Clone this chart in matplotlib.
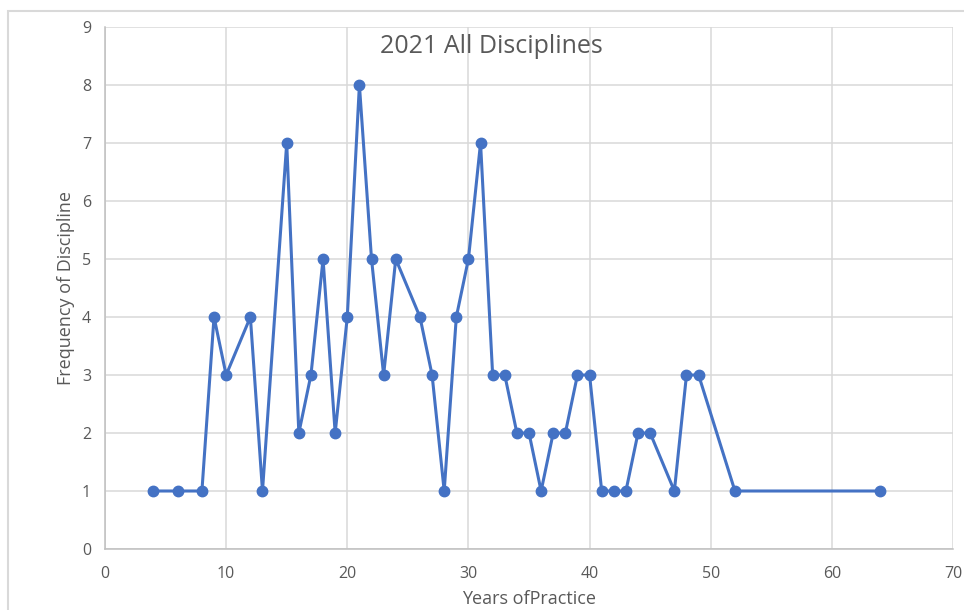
#!/usr/bin/python3

import matplotlib
matplotlib.use("Agg")
import matplotlib.pyplot as plt
from matplotlib.patches import Rectangle

years = [4, 6, 8, 9, 10, 12, 13, 15, 16, 17, 18, 19, 20, 21, 22, 23, 24,
         26, 27, 28, 29, 30, 31, 32, 33, 34, 35, 36, 37, 38, 39, 40, 41,
         42, 43, 44, 45, 47, 48, 49, 52, 64]
freq = [1, 1, 1, 4, 3, 4, 1, 7, 2, 3, 5, 2, 4, 8, 5, 3, 5,
        4, 3, 1, 4, 5, 7, 3, 3, 2, 2, 1, 2, 2, 3, 3, 1,
        1, 1, 2, 2, 1, 3, 3, 1, 1]

x_ticks = [0, 10, 20, 30, 40, 50, 60, 70]
y_ticks = list(range(0, 10))

plt.rcParams['font.family'] = ['Open Sans', 'DejaVu Sans']
grey = '#595959'

fig = plt.figure(figsize=(9.64, 6.10), dpi=100)
# outer chart border (light gray, runs off right and bottom)
fig.patches.append(Rectangle((8/964, -0.1), 1.2, 1.1 - 11/610,
                             transform=fig.transFigure, fill=False,
                             edgecolor='#D9D9D9', linewidth=1.5))

ax = fig.add_axes([105/964, 61/610, 848/964, 522/610])
ax.plot(years, freq, color='#4472C4', linewidth=2.2, marker='o',
        markersize=7.5, zorder=3)

ax.set_xlim(0, 70)
ax.set_ylim(0, 9)
ax.set_xticks(x_ticks)
ax.set_yticks(y_ticks)
ax.grid(True, color='#D9D9D9', linewidth=1.1)
ax.set_axisbelow(True)
for s in ['top', 'right']:
  ax.spines[s].set_visible(False)
for s in ['left', 'bottom']:
  ax.spines[s].set_color('#BFBFBF')
  ax.spines[s].set_linewidth(1.1)
ax.tick_params(length=0, labelsize=11.5, colors=grey, pad=10)
ax.tick_params(axis='x', pad=12)

ax.text(0.456, 0.9636, '2021 All Disciplines', transform=ax.transAxes,
        ha='center', va='center', fontsize=18, color=grey)
ax.set_xlabel('Years ofPractice', fontsize=13, color=grey, labelpad=6)
ax.set_ylabel('Frequency of Discipline', fontsize=13, color=grey, labelpad=5)

fig.savefig('out.png', dpi=100)
